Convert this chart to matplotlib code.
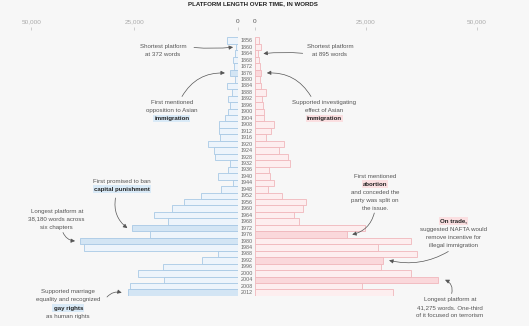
import matplotlib
matplotlib.use('Agg')
import matplotlib.pyplot as plt
from matplotlib.transforms import blended_transform_factory
from matplotlib.ticker import FuncFormatter

# ---------------- data ----------------
years = list(range(1856, 2013, 4))
dem_words = [2500, 372, 600, 1200, 800, 1750, 530, 2620, 1260, 2375,
             1820, 2375, 3030, 4480, 4480, 4360, 7080, 5770, 5450, 1700,
             2230, 4650, 1210, 4120, 8850, 12900, 15950, 20170, 16770, 25500,
             21200, 38180, 37140, 4650, 8530, 17990, 24190, 17740, 26060, 26470]
rep_words = [1000, 1380, 895, 1000, 1220, 1380, 1220, 1550, 2660, 1660,
             1890, 2150, 2100, 4320, 3600, 2620, 6610, 5500, 7500, 7940,
             3280, 3500, 4370, 3000, 6200, 11570, 10820, 8910, 10090, 24870,
             20880, 35150, 27860, 36500, 28980, 28400, 35150, 41275, 24130, 31230]
dem_highlight = [1876, 1972, 1980, 2012]
rep_highlight = [1876, 1976, 1992, 2004]
tick_values = [0, 25000, 50000]
title = "PLATFORM LENGTH OVER TIME, IN WORDS"

# ---------------- style ----------------
W, H = 529, 326
BG = '#f7f7f7'
FONT = 'Liberation Sans'
plt.rcParams['font.family'] = [FONT, 'DejaVu Sans']

fig = plt.figure(figsize=(W / 100, H / 100), dpi=100, facecolor=BG)

top_px, bot_px = 30.0, 295.93
left_zero_px, right_zero_px = 237.5, 254.5
left_scale, right_scale = 242.4, 225.0  # words per pixel
ylim = (2014, 1849.38)

ax_l = fig.add_axes([0, (H - bot_px) / H, left_zero_px / W, (bot_px - top_px) / H])
ax_r = fig.add_axes([right_zero_px / W, (H - bot_px) / H, (W - right_zero_px) / W, (bot_px - top_px) / H])
ov = fig.add_axes([0, 0, 1, 1], zorder=5)
ov.set_xlim(0, W)
ov.set_ylim(H, 0)
ov.axis('off')
ov.patch.set_alpha(0)

ax_l.set_xlim(left_zero_px * left_scale, 0)
ax_r.set_xlim(0, (W - right_zero_px) * right_scale)

L_FILL, L_HI, L_EDGE = '#edf4fb', '#d3e5f4', '#a9c9e5'
R_FILL, R_HI, R_EDGE = '#fdeeef', '#fad8db', '#f0b7bc'

ax_l.barh(years, dem_words, height=4,
          color=[L_HI if y in dem_highlight else L_FILL for y in years],
          edgecolor=L_EDGE, linewidth=0.6)
ax_r.barh(years, rep_words, height=4,
          color=[R_HI if y in rep_highlight else R_FILL for y in years],
          edgecolor=R_EDGE, linewidth=0.6)

fmt = FuncFormatter(lambda v, p: f"{int(v):,}")
for ax in (ax_l, ax_r):
    ax.set_ylim(*ylim)
    ax.set_facecolor('none')
    for s in ax.spines.values():
        s.set_visible(False)
    ax.set_yticks([])
    ax.set_xticks(tick_values)
    ax.xaxis.set_major_formatter(fmt)
    ax.tick_params(axis='x', top=True, bottom=False, labeltop=True, labelbottom=False,
                   length=2.2, width=0.5, color='#bbbbbb', pad=1.8,
                   labelsize=4.6, labelcolor='#aaaaaa')
    for lab in ax.get_xticklabels():
        if lab.get_text() == '0':
            lab.set_color('#555555')

# year labels
ytrans = blended_transform_factory(ov.transData, ax_l.transData)
for y in years:
    ov.text(246.5, y, str(y), transform=ytrans, ha='center', va='center',
            fontsize=3.9, color='#666666')

ov.text(252.5, 3.2, title, ha='center', va='center', fontsize=4.4,
        fontweight='bold', color='#222222')

TXT = '#555555'
KEY = '#222222'
LS = 8.2


def block(x, y0, lines, hi):
    for i, (t, b) in enumerate(lines):
        kw = dict(ha='center', va='center', fontsize=4.4, color=KEY if b else TXT,
                  fontweight='bold' if b else 'normal')
        if b:
            kw['bbox'] = dict(boxstyle='square,pad=0.2', fc=hi, ec='none')
        ov.text(x, y0 + i * LS, t, **kw)


def arrow(ax, year, value, gap, start, rad):
    ax.annotate('', xy=(value + gap, year), xycoords='data',
                xytext=start, textcoords=ov.transData,
                arrowprops=dict(arrowstyle='-|>,head_length=0.4,head_width=0.2',
                                mutation_scale=6, color='#555555', lw=0.5,
                                shrinkA=0, shrinkB=0,
                                connectionstyle=f'arc3,rad={rad}'),
                zorder=6, annotation_clip=False)


LHI, RHI = '#d9eaf7', '#fbdfe1'
dem = dict(zip(years, dem_words))
rep = dict(zip(years, rep_words))

# left annotations
block(163, 46.7, [("Shortest platform", False), ("at 372 words", False)], LHI)
arrow(ax_l, 1860, dem[1860], 700, (194, 47.5), 0.05)
block(171.7, 102.3, [("First mentioned", False), ("opposition to Asian", False),
                     ("immigration", True)], LHI)
arrow(ax_l, 1876, dem[1876], 1300, (182, 96.5), -0.3)
block(121.7, 181, [("First promised to ban", False), ("capital punishment", True)], LHI)
arrow(ax_l, 1972, dem[1972], 1200, (115.5, 198), 0.3)
block(56.7, 211, [("Longest platform at", False), ("38,180 words across", False),
                  ("six chapters", False)], LHI)
arrow(ax_l, 1980, dem[1980], 1200, (63, 232.5), 0.3)
block(68.3, 291.7, [("Supported marriage", False), ("equality and recognized", False),
                    ("gay rights", True), ("as human rights", False)], LHI)
arrow(ax_l, 2012, dem[2012], 1600, (107, 297), -0.3)

# right annotations
block(330, 46.7, [("Shortest platform", False), ("at 895 words", False)], RHI)
arrow(ax_r, 1864, rep[1864], 1100, (302.7, 53.3), 0.05)
block(324.3, 102.3, [("Supported investigating", False), ("effect of Asian", False),
                     ("immigration", True)], RHI)
arrow(ax_r, 1876, rep[1876], 1400, (311, 96.5), 0.3)
block(375, 176, [("First mentioned", False), ("abortion", True), ("and conceded the", False),
                 ("party was split on", False), ("the issue.", False)], RHI)
arrow(ax_r, 1976, rep[1976], 1100, (374.3, 213), -0.3)
block(453.3, 221, [("On trade,", True), ("suggested NAFTA would", False),
                   ("remove incentive for", False), ("illegal immigration", False)], RHI)
arrow(ax_r, 1992, rep[1992], 1300, (448.3, 251.5), -0.2)
block(450, 299.3, [("Longest platform at", False), ("41,275 words. One-third", False),
                   ("of it focused on terrorism", False)], RHI)
arrow(ax_r, 2004, rep[2004], 1600, (451.7, 293.5), 0.4)

fig.savefig('out.png', dpi=100, facecolor=BG)
